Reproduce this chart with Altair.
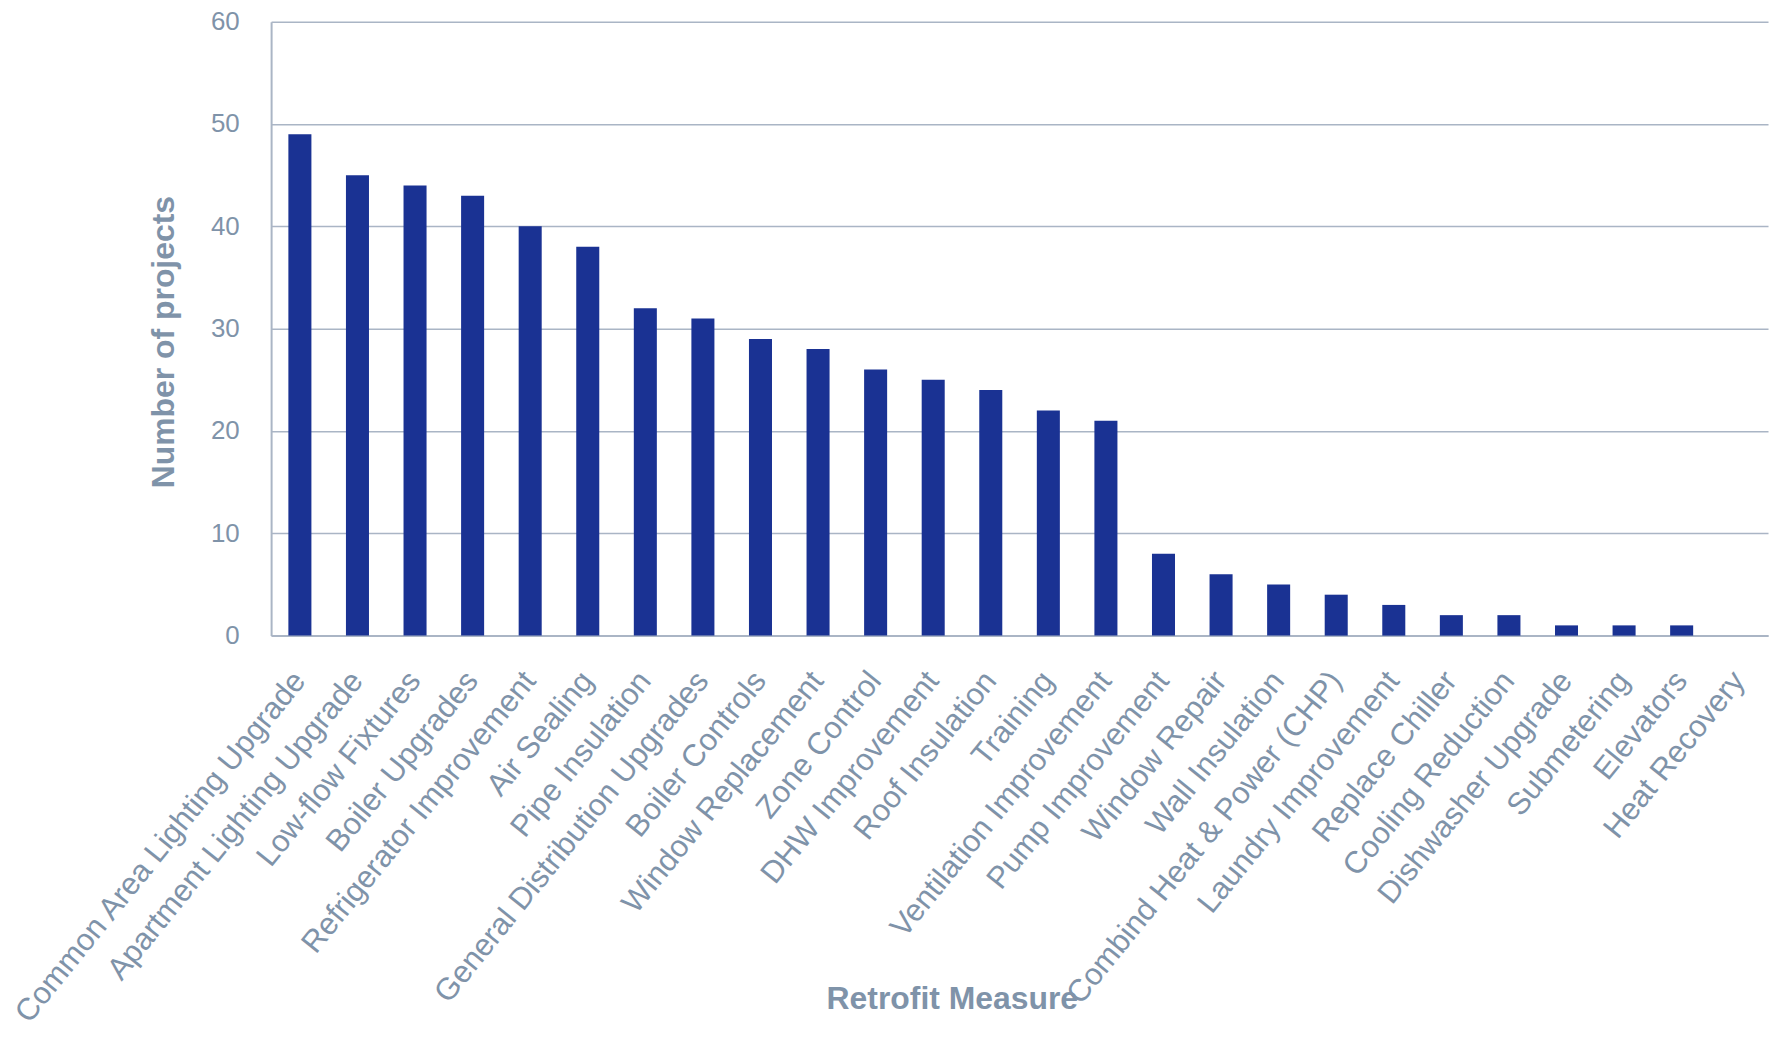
import altair as alt
import pandas as pd

measures = [
    "Common Area Lighting Upgrade", "Apartment Lighting Upgrade", "Low-flow Fixtures",
    "Boiler Upgrades", "Refrigerator Improvement", "Air Sealing", "Pipe Insulation",
    "General Distribution Upgrades", "Boiler Controls", "Window Replacement",
    "Zone Control", "DHW Improvement", "Roof Insulation", "Training",
    "Ventilation Improvement", "Pump Improvement", "Window Repair", "Wall Insulation",
    "Combind Heat & Power (CHP)", "Laundry Improvement", "Replace Chiller",
    "Cooling Reduction", "Dishwasher Upgrade", "Submetering", "Elevators", "Heat Recovery",
]
projects = [49, 45, 44, 43, 40, 38, 32, 31, 29, 28, 26, 25, 24, 22, 21,
            8, 6, 5, 4, 3, 2, 2, 1, 1, 1, 0]
y_ticks = [0, 10, 20, 30, 40, 50, 60]

df = pd.DataFrame({"measure": measures, "projects": projects})

TEXT = "#7f93a9"
GRID = "#aab5c5"
FONT = "Liberation Sans"

chart = alt.Chart(df).mark_bar(color="#1a3293").encode(
    x=alt.X(
        "measure:N",
        sort=measures,
        scale=alt.Scale(paddingInner=0.6, paddingOuter=0.3),
        axis=alt.Axis(
            title="Retrofit Measure",
            labelAngle=-51,
            labelAlign="right",
            labelBaseline="middle",
            labelPadding=40,
            labelLimit=1000,
            labelOverlap=False,
            labelFontSize=31,
            labelColor=TEXT,
            labelFont=FONT,
            ticks=False,
            domainColor=GRID,
            domainWidth=2,
            titleFontSize=32,
            titleFont=FONT,
            titleColor=TEXT,
            titleFontWeight="bold",
            titleX=683,
            titleY=364,
            titleAlign="center",
            titleBaseline="middle",
        ),
    ),
    y=alt.Y(
        "projects:Q",
        scale=alt.Scale(domain=[0, 60], nice=False),
        axis=alt.Axis(
            title="Number of projects",
            values=y_ticks,
            labelPadding=32,
            labelFontSize=26,
            labelColor=TEXT,
            labelFont=FONT,
            ticks=False,
            grid=True,
            gridColor=GRID,
            gridWidth=1.5,
            domainColor=GRID,
            domainWidth=2,
            titleFontSize=32,
            titleFont=FONT,
            titleColor=TEXT,
            titleFontWeight="bold",
            titleX=-108,
            titleY=321,
            titleAngle=-90,
            titleAlign="center",
            titleBaseline="middle",
        ),
    ),
).properties(
    width=1502,
    height=616,
    autosize=alt.AutoSizeParams(type="none"),
    padding={"left": 264, "top": 12, "right": 4, "bottom": 401},
).configure_view(stroke=None)

chart.save("out.html", embed_options={"renderer": "svg", "actions": False})
